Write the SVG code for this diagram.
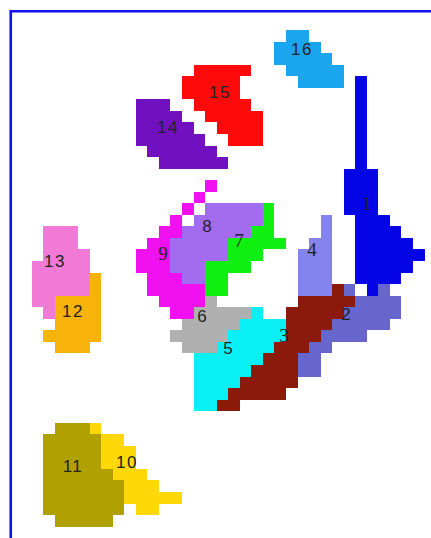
<svg xmlns="http://www.w3.org/2000/svg" width="431" height="538" viewBox="0 0 431 538">
<style>
polygon, rect { shape-rendering: crispEdges; stroke: none; }
.lb { font-family: "Liberation Sans", Arial, sans-serif; font-size: 17px; fill: #222; text-anchor: middle; }
.ls { font-family: "Liberation Serif", "Times New Roman", serif; font-size: 19px; fill: #222; text-anchor: middle; }
.ll { letter-spacing: 1.5px; }
</style>
<rect x="0" y="0" width="431" height="538" fill="#ffffff"/>
<path d="M10.75 538 V11.3 H431" fill="none" stroke="#1010F0" stroke-width="2.6"/>

<g id="n16">
<polygon transform="matrix(11.55 0 0 11.55 8.75 6.9)" fill="#1AA6EE" points="24,2 26,2 26,3 27,3 27,4 28,4 28,5 29,5 29,7 25,7 25,6 24,6 24,5 23,5 23,3 24,3"/>
<text class="lb ll" x="302" y="55">16</text>
</g>
<g id="n15">
<polygon transform="matrix(11.55 0 0 11.55 8.75 6.9)" fill="#FF0A0A" points="16,5 21,5 21,6 20,6 20,8 21,8 21,9 22,9 22,12 19,12 19,11 18,11 18,10 17,10 17,9 16,9 16,8 15,8 15,6 16,6"/>
<text class="lb ll" x="220" y="98">15</text>
</g>
<g id="n14">
<polygon transform="matrix(11.55 0 0 11.55 8.75 6.9)" fill="#7010C0" points="11,8 14,8 14,9 15,9 15,10 16,10 16,11 17,11 17,12 18,12 18,13 19,13 19,14 13,14 13,13 12,13 12,12 11,12"/>
<text class="lb ll" x="168" y="133">14</text>
</g>
<g id="n1">
<polygon transform="matrix(11.55 0 0 11.55 8.75 6.9)" fill="#0505E5" points="30,6 31,6 31,14 32,14 32,18 33,18 33,19 34,19 34,20 35,20 35,21 36,21 36,22 35,22 35,23 34,23 34,24 32,24 32,25 31,25 31,24 30,24 30,18 29,18 29,14 30,14"/>
<text class="ls" x="367" y="210">1</text>
</g>
<g id="n4">
<polygon transform="matrix(11.55 0 0 11.55 8.75 6.9)" fill="#8484EE" points="27,18 28,18 28,25 25,25 25,21 26,21 26,20 27,20"/>
<text class="ls" x="312" y="256">4</text>
</g>
<g id="n9">
<g transform="matrix(11.55 0 0 11.55 8.75 6.9)" fill="#F010F0">
<rect x="17" y="15" width="1" height="1"/>
<rect x="16" y="16" width="1" height="1"/>
<rect x="15" y="17" width="1" height="1"/>
<polygon points="14,18 15,18 15,20 14,20 14,23 15,23 15,24 17,24 17,26 16,26 16,27 14,27 14,26 13,26 13,25 12,25 12,23 11,23 11,21 12,21 12,20 13,20 13,19 14,19"/>
</g>
<text class="ls" x="163" y="260">9</text>
</g>
<g id="n8">
<polygon transform="matrix(11.55 0 0 11.55 8.75 6.9)" fill="#A26BF0" points="17,17 22,17 22,19 21,19 21,20 19,20 19,22 17,22 17,24 15,24 15,23 14,23 14,20 15,20 15,19 16,19 16,18 17,18"/>
<text class="lb" x="207" y="232">8</text>
</g>
<g id="n7">
<polygon transform="matrix(11.55 0 0 11.55 8.75 6.9)" fill="#10F010" points="22,17 23,17 23,20 24,20 24,21 22,21 22,22 21,22 21,23 19,23 19,25 17,25 17,22 19,22 19,20 21,20 21,19 22,19"/>
<text class="ls" x="239" y="247">7</text>
</g>
<g id="n6">
<polygon transform="matrix(11.55 0 0 11.55 8.75 6.9)" fill="#B0B0B0" points="17,25 18,25 18,26 21,26 21,27 20,27 20,28 19,28 19,29 18,29 18,30 15,30 15,29 14,29 14,28 15,28 15,27 16,27 16,26 17,26"/>
<text class="lb" x="202" y="322">6</text>
</g>
<g id="n5">
<polygon transform="matrix(11.55 0 0 11.55 8.75 6.9)" fill="#08F0F6" points="21,26 22,26 22,27 24,27 24,29 23,29 23,30 22,30 22,31 21,31 21,32 20,32 20,33 19,33 19,34 18,34 18,35 16,35 16,30 18,30 18,29 19,29 19,28 20,28 20,27 21,27"/>
<text class="lb" x="228" y="354">5</text>
</g>
<g id="n3">
<polygon transform="matrix(11.55 0 0 11.55 8.75 6.9)" fill="#8C1A0A" points="28,24 29,24 29,25 30,25 30,26 29,26 29,27 28,27 28,28 27,28 27,29 26,29 26,30 25,30 25,33 24,33 24,34 20,34 20,35 18,35 18,34 19,34 19,33 20,33 20,32 21,32 21,31 22,31 22,30 23,30 23,29 24,29 24,26 25,26 25,25 28,25"/>
<text class="ls" x="284" y="342">3</text>
</g>
<g id="n2">
<g transform="matrix(11.55 0 0 11.55 8.75 6.9)" fill="#6666CC">
<rect x="29" y="24" width="1" height="1"/>
<polygon points="32,24 33,24 33,25 34,25 34,27 33,27 33,28 31,28 31,29 28,29 28,30 27,30 27,32 25,32 25,30 26,30 26,29 27,29 27,28 28,28 28,27 29,27 29,26 30,26 30,25 32,25"/>
</g>
<text class="lb" x="346" y="320">2</text>
</g>
<g id="n13">
<polygon transform="matrix(11.55 0 0 11.55 8.75 6.9)" fill="#F07AD6" points="3,19 6,19 6,21 7,21 7,25 4,25 4,27 3,27 3,26 2,26 2,22 3,22"/>
<text class="lb ll" x="55" y="267">13</text>
</g>
<g id="n12">
<polygon transform="matrix(11.55 0 0 11.55 8.75 6.9)" fill="#F8B20C" points="7,23 8,23 8,29 7,29 7,30 4,30 4,29 3,29 3,28 4,28 4,25 7,25"/>
<text class="lb ll" x="73" y="317">12</text>
</g>
<g id="n11">
<polygon transform="matrix(11.55 0 0 11.55 8.75 6.9)" fill="#B0A000" points="4,36 7,36 7,37 8,37 8,40 9,40 9,41 10,41 10,44 9,44 9,45 4,45 4,44 3,44 3,37 4,37"/>
<text class="lb ll" x="73" y="472">11</text>
</g>
<g id="n10">
<polygon transform="matrix(11.55 0 0 11.55 8.75 6.9)" fill="#FFD80A" points="7,36 8,36 8,37 10,37 10,38 11,38 11,40 12,40 12,41 13,41 13,42 15,42 15,43 13,43 13,44 11,44 11,43 10,43 10,41 9,41 9,40 8,40 8,37 7,37"/>
<text class="lb ll" x="127" y="468">10</text>
</g>
<g id="connectors"></g>
</svg>
